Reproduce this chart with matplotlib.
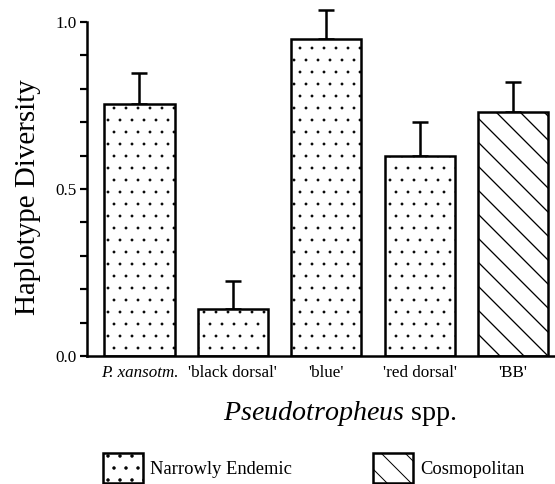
import matplotlib
matplotlib.use("Agg")
import matplotlib.pyplot as plt
from matplotlib.patches import Patch
import numpy as np

# data
species = ["P. xansotm.", "'black dorsal'", "'blue'", "'red dorsal'", "'BB'"]
diversity = [0.753, 0.140, 0.949, 0.598, 0.732]
err_up = [0.095, 0.086, 0.087, 0.104, 0.089]
group = ["endemic", "endemic", "endemic", "endemic", "cosmo"]
hatches = {"endemic": ".", "cosmo": "\\"}
hatch_lw = {"endemic": 0.3, "cosmo": 1.3}
legend_labels = ["Narrowly Endemic", "Cosmopolitan"]

plt.rcParams["font.family"] = ["Liberation Serif", "DejaVu Serif"]
plt.rcParams["mathtext.fontset"] = "custom"
plt.rcParams["mathtext.it"] = "Liberation Serif:italic"
plt.rcParams["mathtext.rm"] = "Liberation Serif"
plt.rcParams["hatch.color"] = "black"

DPI = 72  # 1 pt == 1 px, hatch unit = 72 px
fig = plt.figure(figsize=(555 / DPI, 484 / DPI), dpi=DPI)
ax = fig.add_axes([87 / 555, 1 - 356 / 484, (555 - 87) / 555, (356 - 22) / 484])

x = np.arange(len(species))
for i in range(len(species)):
    # hatch linewidth is picked up when the patch is made
    with plt.rc_context({"hatch.linewidth": hatch_lw[group[i]]}):
        ax.bar(x[i], diversity[i], width=0.75, color="white", edgecolor="black",
               linewidth=2.5, hatch=hatches[group[i]], zorder=2)
ax.errorbar(x, diversity, yerr=[np.zeros(len(x)), err_up], fmt="none",
            ecolor="black", elinewidth=2.5, capsize=8, capthick=2.5,
            clip_on=False, zorder=1)

ax.set_xlim(-0.562, 4.449)
ax.set_ylim(0, 1.0)
for s in ["top", "right"]:
    ax.spines[s].set_visible(False)
ax.spines["left"].set_linewidth(2.5)
ax.spines["bottom"].set_linewidth(2.5)

ax.set_yticks([0, 0.5, 1.0])
ax.set_yticklabels(["0.0", "0.5", "1.0"])
ax.set_yticks(np.arange(0, 1.01, 0.1), minor=True)
ax.tick_params(axis="y", which="both", length=7, width=2.2, direction="out",
               labelsize=17, pad=3)
ax.set_xticks(x)
ax.set_xticklabels(species)
ax.get_xticklabels()[0].set_fontstyle("italic")
ax.tick_params(axis="x", length=0, labelsize=17, pad=9)

ax.set_xlabel(r"$\mathit{Pseudotropheus}$ spp.", fontsize=28)
ax.xaxis.set_label_coords((340 - 87) / 468, (356 - 399) / 334)

fig.text(28 / 555, 1 - 197 / 484, "Haplotype Diversity", rotation=90,
         ha="center", va="center", fontsize=29)

# legend, one entry at a time so they sit where the original has them
with plt.rc_context({"hatch.linewidth": hatch_lw["endemic"]}):
    h1 = Patch(facecolor="white", edgecolor="black", linewidth=2.5, hatch=hatches["endemic"])
with plt.rc_context({"hatch.linewidth": hatch_lw["cosmo"]}):
    h2 = Patch(facecolor="white", edgecolor="black", linewidth=2.5, hatch=hatches["cosmo"])
for h, lab, xpos in [(h1, legend_labels[0], 103), (h2, legend_labels[1], 373)]:
    fig.legend([h], [lab], loc="center left",
               bbox_to_anchor=(xpos / 555, 1 - 468 / 484),
               frameon=False, fontsize=18.5, borderpad=0, borderaxespad=0,
               handlelength=40 / 18.5, handleheight=40 / 18.5, handletextpad=0.4)

fig.savefig("out.png", dpi=DPI)
